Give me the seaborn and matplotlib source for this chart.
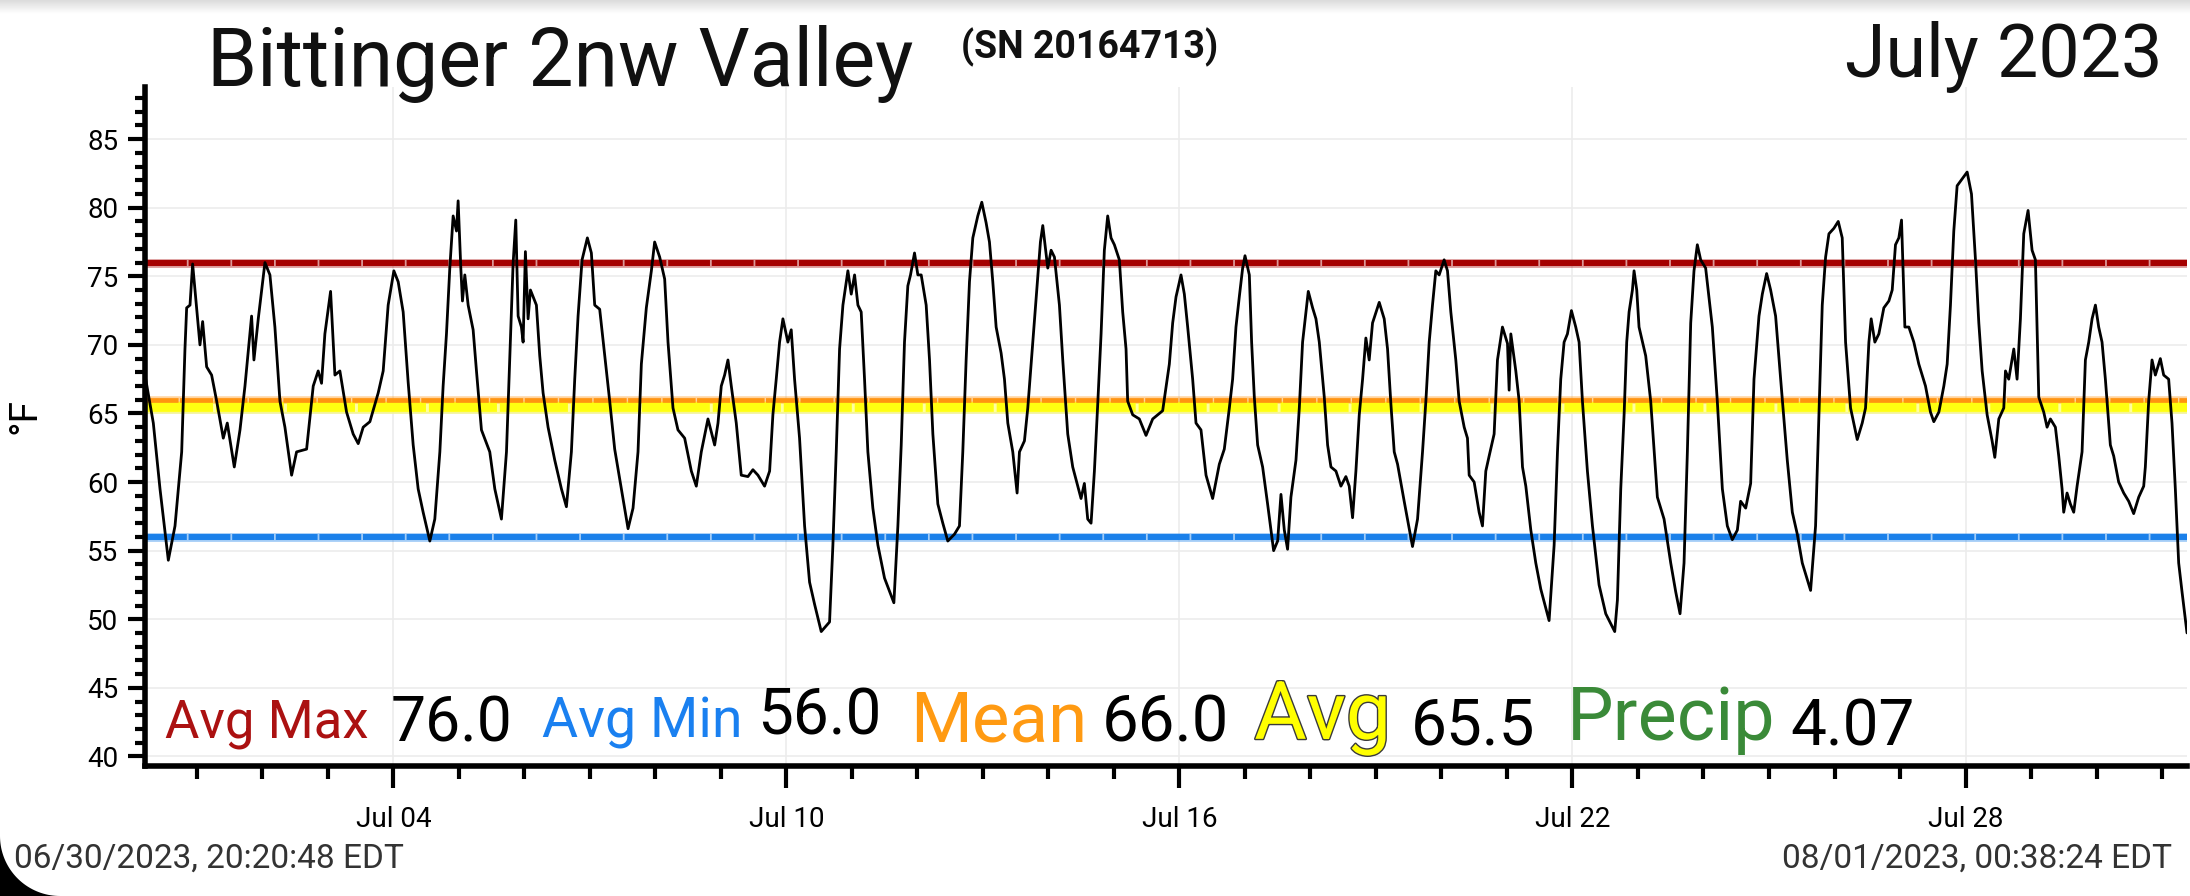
import numpy as np
import pandas as pd
import seaborn as sns
import matplotlib
matplotlib.use('Agg')
import matplotlib.pyplot as plt
import matplotlib.dates as mdates
import matplotlib.patheffects as pe
from matplotlib.ticker import MultipleLocator
from matplotlib.patches import Polygon

STATION = 'Bittinger 2nw Valley'
SERIAL = '(SN 20164713)'
MONTH = 'July 2023'
FIRST_STAMP = '06/30/2023, 20:20:48 EDT'
LAST_STAMP = '08/01/2023, 00:38:24 EDT'

# temperature trace: days after 2023-07-01 00:00 and deg F
days_a = [-0.791, -0.664, -0.562, -0.435, -0.333, -0.231, -0.181, -0.155, -0.104, -0.064,
          -0.028, 0.048, 0.089, 0.150, 0.226, 0.303, 0.404, 0.465, 0.572, 0.659,
          0.735, 0.836, 0.872, 0.938, 1.040, 1.116, 1.192, 1.269, 1.345, 1.447,
          1.523, 1.676, 1.777, 1.853, 1.904, 1.955, 2.042, 2.108, 2.184, 2.286,
          2.387, 2.464, 2.540, 2.642, 2.769, 2.845, 2.921, 3.008, 3.074, 3.150,
          3.226, 3.303, 3.379, 3.455, 3.557, 3.633, 3.710, 3.760, 3.811, 3.862,
          3.913, 3.964, 3.989, 4.030, 4.055, 4.091, 4.142, 4.218, 4.269, 4.345]
temps_a = [67.8, 64.3, 59.5, 54.3, 56.8, 62.2, 69.7, 72.7, 72.9, 75.9,
           74.0, 70.0, 71.7, 68.4, 67.8, 65.9, 63.2, 64.3, 61.1, 63.8,
           67.0, 72.1, 68.9, 71.9, 76.0, 75.1, 71.3, 65.9, 64.0, 60.5,
           62.2, 62.4, 67.0, 68.1, 67.2, 70.8, 73.9, 67.8, 68.1, 65.1,
           63.5, 62.8, 64.0, 64.4, 66.5, 68.1, 72.9, 75.4, 74.6, 72.4,
           67.3, 62.7, 59.5, 57.8, 55.7, 57.3, 62.2, 67.0, 70.8, 75.6,
           79.4, 78.3, 80.5, 75.6, 73.2, 75.1, 72.9, 71.1, 68.1, 63.8]

days_b = [4.472, 4.549, 4.650, 4.727, 4.777, 4.828, 4.869, 4.905, 4.955, 4.981,
          5.016, 5.057, 5.093, 5.184, 5.235, 5.286, 5.362, 5.464, 5.566, 5.642,
          5.718, 5.769, 5.820, 5.881, 5.962, 6.023, 6.074, 6.150, 6.227, 6.303,
          6.379, 6.481, 6.583, 6.659, 6.735, 6.786, 6.862, 6.939, 6.989, 7.066,
          7.142, 7.193, 7.269, 7.345, 7.447, 7.549, 7.625, 7.701, 7.803, 7.905,
          7.956, 8.006, 8.057, 8.108, 8.159, 8.235, 8.311, 8.413, 8.489, 8.566,
          8.667, 8.744, 8.794, 8.845, 8.896, 8.947, 9.023, 9.074, 9.125, 9.201,
          9.278, 9.354, 9.430, 9.532]
temps_b = [62.2, 59.5, 57.3, 62.2, 68.9, 75.9, 79.1, 72.1, 71.3, 70.2,
           76.8, 71.9, 74.0, 72.9, 69.2, 66.5, 64.0, 61.6, 59.5, 58.2,
           62.2, 67.5, 72.1, 76.2, 77.8, 76.7, 72.9, 72.6, 69.2, 65.9,
           62.4, 59.5, 56.6, 58.1, 62.2, 68.6, 72.7, 75.4, 77.5, 76.4,
           74.8, 70.2, 65.4, 63.8, 63.2, 60.8, 59.7, 62.2, 64.6, 62.7,
           64.3, 67.0, 67.8, 68.9, 67.0, 64.3, 60.5, 60.4, 60.9, 60.5,
           59.7, 60.8, 64.9, 67.5, 70.2, 71.9, 70.2, 71.1, 67.5, 63.2,
           56.8, 52.7, 51.1, 49.1]

days_c = [9.659, 9.710, 9.761, 9.812, 9.863, 9.939, 9.990, 10.041, 10.092, 10.142,
          10.193, 10.244, 10.320, 10.397, 10.498, 10.641, 10.702, 10.753, 10.803, 10.854,
          10.895, 10.956, 11.007, 11.058, 11.134, 11.185, 11.236, 11.312, 11.388, 11.464,
          11.566, 11.642, 11.693, 11.744, 11.795, 11.846, 11.922, 11.983, 12.049, 12.100,
          12.151, 12.202, 12.278, 12.329, 12.380, 12.456, 12.522, 12.558, 12.634, 12.685,
          12.761, 12.837, 12.878, 12.914, 12.990, 13.041, 13.092, 13.168, 13.219, 13.295,
          13.371, 13.448, 13.498, 13.549, 13.600, 13.651, 13.702, 13.753, 13.804, 13.854,
          13.905, 13.956, 14.007, 14.083, 14.134, 14.185, 14.210, 14.287, 14.388, 14.490,
          14.592, 14.744]
temps_c = [49.8, 55.4, 62.2, 69.7, 72.9, 75.4, 73.7, 75.1, 72.9, 72.4,
           67.5, 62.2, 58.1, 55.4, 53.0, 51.2, 56.8, 62.7, 70.2, 74.3,
           75.1, 76.7, 75.1, 75.1, 72.9, 68.9, 63.5, 58.4, 57.0, 55.7,
           56.2, 56.8, 62.2, 68.9, 74.6, 77.8, 79.4, 80.4, 78.9, 77.5,
           74.6, 71.3, 69.4, 67.5, 64.3, 62.2, 59.2, 62.2, 63.0, 65.4,
           70.2, 75.1, 77.5, 78.7, 75.6, 76.9, 76.4, 72.9, 68.9, 63.5,
           61.1, 59.7, 58.8, 59.9, 57.3, 57.0, 60.8, 65.7, 70.8, 76.9,
           79.4, 77.8, 77.3, 76.2, 72.4, 69.7, 65.9, 64.9, 64.6, 63.4,
           64.6, 65.2]

days_d = [14.846, 14.897, 14.948, 15.024, 15.075, 15.126, 15.202, 15.253, 15.329, 15.406,
          15.507, 15.609, 15.685, 15.762, 15.812, 15.863, 15.914, 15.965, 16.001, 16.067,
          16.102, 16.143, 16.194, 16.270, 16.346, 16.397, 16.438, 16.499, 16.550, 16.601,
          16.651, 16.702, 16.779, 16.830, 16.880, 16.931, 16.967, 17.033, 17.084, 17.135,
          17.211, 17.262, 17.313, 17.389, 17.465, 17.541, 17.592, 17.643, 17.694, 17.745,
          17.796, 17.846, 17.897, 17.948, 18.050, 18.126, 18.177, 18.228, 18.279, 18.330,
          18.431, 18.558, 18.635, 18.711, 18.762, 18.813, 18.863, 18.914, 18.965, 19.041,
          19.092, 19.143, 19.219, 19.270, 19.347, 19.397, 19.423, 19.499, 19.575, 19.626,
          19.677, 19.728, 19.804, 19.855, 19.931]
temps_d = [68.6, 71.6, 73.5, 75.1, 73.7, 71.3, 67.5, 64.3, 63.8, 60.5,
           58.8, 61.3, 62.4, 65.4, 67.5, 71.3, 73.5, 75.6, 76.5, 75.1,
           70.2, 66.2, 62.7, 61.1, 58.4, 56.5, 55.0, 55.7, 59.1, 56.5,
           55.1, 58.9, 61.6, 65.4, 70.2, 72.4, 73.9, 72.7, 71.9, 70.2,
           66.2, 62.7, 61.1, 60.8, 59.7, 60.4, 59.7, 57.4, 60.8, 64.9,
           67.5, 70.5, 68.9, 71.6, 73.1, 71.9, 69.7, 65.7, 62.2, 61.3,
           58.6, 55.3, 57.3, 62.2, 65.9, 70.2, 72.9, 75.4, 75.1, 76.2,
           75.4, 72.4, 68.9, 65.9, 64.0, 63.2, 60.5, 60.0, 57.8, 56.8,
           60.8, 61.9, 63.5, 68.9, 71.3]

days_e = [20.008, 20.033, 20.059, 20.135, 20.186, 20.237, 20.288, 20.364, 20.440, 20.516,
          20.643, 20.720, 20.771, 20.821, 20.872, 20.923, 20.984, 21.050, 21.101, 21.152,
          21.228, 21.305, 21.406, 21.508, 21.645, 21.686, 21.737, 21.788, 21.828, 21.864,
          21.915, 21.940, 21.981, 22.016, 22.118, 22.194, 22.296, 22.398, 22.500, 22.576,
          22.642, 22.703, 22.754, 22.805, 22.855, 22.906, 22.957, 23.033, 23.135, 23.211,
          23.288, 23.364, 23.440, 23.517, 23.567, 23.644, 23.720, 23.771, 23.847, 23.898,
          23.964, 24.025, 24.101, 24.178, 24.279, 24.356, 24.432, 24.508, 24.635, 24.711,
          24.762, 24.813, 24.864, 24.915, 24.991, 25.057]
temps_e = [70.1, 66.7, 70.8, 68.1, 65.9, 61.1, 59.7, 56.5, 54.1, 52.2,
           49.9, 55.4, 62.2, 67.5, 70.2, 70.8, 72.5, 71.3, 70.2, 65.9,
           60.8, 56.8, 52.5, 50.4, 49.1, 51.4, 59.5, 64.9, 70.2, 72.4,
           74.0, 75.4, 74.0, 71.3, 69.2, 65.9, 58.9, 57.3, 54.1, 52.0,
           50.4, 54.1, 62.2, 71.6, 75.4, 77.3, 76.2, 75.6, 71.3, 65.9,
           59.5, 56.8, 55.8, 56.5, 58.6, 58.1, 59.9, 67.5, 72.1, 73.7,
           75.2, 74.0, 72.1, 67.5, 61.6, 57.8, 56.2, 54.1, 52.1, 56.8,
           64.9, 72.9, 76.4, 78.1, 78.5, 79.0]

days_f = [25.118, 25.169, 25.245, 25.347, 25.423, 25.474, 25.525, 25.560, 25.616, 25.677,
          25.753, 25.830, 25.881, 25.931, 25.982, 26.023, 26.074, 26.135, 26.211, 26.287,
          26.389, 26.465, 26.516, 26.593, 26.669, 26.720, 26.770, 26.821, 26.872, 26.948,
          27.025, 27.091, 27.152, 27.203, 27.254, 27.330, 27.406, 27.447, 27.508, 27.584,
          27.610, 27.660, 27.737, 27.787, 27.838, 27.889, 27.955, 28.016, 28.067, 28.118,
          28.194, 28.245, 28.296, 28.372, 28.423, 28.474, 28.499, 28.550, 28.601, 28.652,
          28.703, 28.779, 28.830, 28.881, 28.932, 28.983, 29.033, 29.084, 29.135, 29.211,
          29.262, 29.338, 29.415, 29.491, 29.567, 29.644, 29.720, 29.745, 29.796, 29.847,
          29.898, 29.974, 30.025, 30.101, 30.152, 30.203, 30.254, 30.305, 30.381]
temps_f = [77.8, 70.2, 65.4, 63.1, 64.3, 65.4, 70.2, 71.9, 70.2, 70.8,
           72.7, 73.2, 74.0, 77.3, 77.8, 79.1, 71.3, 71.3, 70.2, 68.6,
           67.0, 65.1, 64.4, 65.1, 67.0, 68.6, 72.9, 78.3, 81.6, 82.1,
           82.6, 81.0, 76.2, 71.6, 68.1, 64.9, 63.0, 61.8, 64.6, 65.4,
           68.1, 67.5, 69.7, 67.5, 71.9, 78.1, 79.8, 76.9, 76.2, 66.2,
           65.1, 64.0, 64.6, 64.0, 61.9, 59.5, 57.8, 59.2, 58.4, 57.8,
           59.7, 62.2, 68.9, 70.2, 71.9, 72.9, 71.3, 70.2, 67.5, 62.7,
           61.9, 60.0, 59.2, 58.6, 57.7, 58.9, 59.7, 61.1, 65.9, 68.9,
           67.8, 69.0, 67.8, 67.5, 64.3, 59.5, 54.1, 52.0, 49.0]

# month summary shown along the bottom of the plot
stat_names = ['Avg Max', 'Avg Min', 'Mean', 'Avg', 'Precip']
stat_values = [76.0, 56.0, 66.0, 65.5, 4.07]

MONTH_START = pd.Timestamp('2023-07-01')
X_FROM, X_TO = -0.791, 30.381

stat_colors = {'Avg Max': '#ab1111', 'Avg Min': '#1a80f0', 'Mean': '#ff9a12',
               'Avg': '#ffff00', 'Precip': '#3a8a38'}
line_colors = {'Avg Max': '#a50000', 'Avg Min': '#1a80ea', 'Mean': '#ff9410', 'Avg': '#ffff10'}
line_widths = {'Avg Max': 4.3, 'Avg Min': 4.3, 'Mean': 3.4, 'Avg': 7.0}


def build_frame() -> pd.DataFrame:
    '''Glue the trace pieces together into one time series.'''
    days = days_a + days_b + days_c + days_d + days_e + days_f
    temps = temps_a + temps_b + temps_c + temps_d + temps_e + temps_f
    times = MONTH_START + pd.to_timedelta(days, unit='D')
    return pd.DataFrame({'time': times, 'temp': temps})


df = build_frame()

sns.set_theme(style='whitegrid')
plt.rcParams['font.family'] = ['Roboto', 'DejaVu Sans']

fig = plt.figure(figsize=(21.9, 8.96), dpi=100)
fig.patch.set_facecolor('white')
ax = fig.add_axes([145 / 2190, 1 - 766 / 896, 2042 / 2190, 679 / 896])
ax.set_facecolor('white')

# summary lines first, the trace goes on top
for name in ['Avg Max', 'Avg Min', 'Avg', 'Mean']:
    val = stat_values[stat_names.index(name)]
    col = line_colors[name]
    lw = line_widths[name]
    ax.axhline(val, color=col, lw=lw + 2.0, alpha=0.4, zorder=2)
    ax.axhline(val, color=col, lw=lw, linestyle=(0, (7.0, 0.3)), zorder=2.5)

sns.lineplot(data=df, x='time', y='temp', color='black', linewidth=2.0, ax=ax, zorder=5)

ax.set_xlim(MONTH_START + pd.Timedelta(days=X_FROM), MONTH_START + pd.Timedelta(days=X_TO))
ax.set_ylim(39.3, 88.8)

ax.xaxis.set_major_locator(mdates.DayLocator(bymonthday=[4, 10, 16, 22, 28]))
ax.xaxis.set_major_formatter(mdates.DateFormatter('%b %d'))
ax.xaxis.set_minor_locator(mdates.DayLocator())
ax.yaxis.set_major_locator(MultipleLocator(5))
ax.yaxis.set_minor_locator(MultipleLocator(1))

ax.grid(which='major', color='#ececec', linewidth=1.2)
ax.grid(which='minor', visible=False)
for side in ['top', 'right']:
    ax.spines[side].set_visible(False)
for side in ['left', 'bottom']:
    ax.spines[side].set_color('black')
    ax.spines[side].set_linewidth(4)

ax.tick_params(axis='both', which='both', direction='out', colors='black', left=True, bottom=True)
ax.tick_params(axis='y', which='major', length=12, width=3, labelsize=20, pad=7)
ax.tick_params(axis='y', which='minor', length=7, width=3)
ax.tick_params(axis='x', which='major', length=16, width=3, labelsize=20, pad=13)
ax.tick_params(axis='x', which='minor', length=9, width=3)

ax.set_xlabel('')
ax.set_ylabel('°F', fontsize=28, color='black')
ax.yaxis.set_label_coords(-0.059, 0.515)
ax.yaxis.label.set_verticalalignment('center')

# summary text row
stat_size = {'Avg Max': 38, 'Avg Min': 40, 'Mean': 51, 'Avg': 58, 'Precip': 53}
value_size = {'Avg Max': 45, 'Avg Min': 46, 'Mean': 47, 'Avg': 46, 'Precip': 46}
name_x = {'Avg Max': 0.0097, 'Avg Min': 0.1943, 'Mean': 0.3749, 'Avg': 0.5432, 'Precip': 0.6965}
value_x = {'Avg Max': 0.1205, 'Avg Min': 0.2997, 'Mean': 0.4683, 'Avg': 0.6198, 'Precip': 0.8059}
name_y = {'Avg Max': 0.042, 'Avg Min': 0.042, 'Mean': 0.036, 'Avg': 0.040, 'Precip': 0.038}
value_y = {'Avg Max': 0.036, 'Avg Min': 0.046, 'Mean': 0.036, 'Avg': 0.032, 'Precip': 0.030}

for name, val in zip(stat_names, stat_values):
    effects = None
    if name == 'Avg':
        effects = [pe.Stroke(linewidth=2.0, foreground='#3a3a3a'), pe.Normal()]
    ax.text(name_x[name], name_y[name], name, transform=ax.transAxes, ha='left', va='baseline',
            fontsize=stat_size[name], color=stat_colors[name], path_effects=effects, zorder=6)
    txt = f'{val:.2f}' if name == 'Precip' else f'{val:.1f}'
    ax.text(value_x[name], value_y[name], txt, transform=ax.transAxes, ha='left', va='baseline',
            fontsize=value_size[name], color='black', zorder=6)

# header and footer
fig.text(207 / 2190, 1 - 86 / 896, STATION, fontsize=58, color='#111111', va='baseline', ha='left')
fig.text(961 / 2190, 1 - 58 / 896, SERIAL, fontsize=27, fontweight='bold', color='#111111',
         va='baseline', ha='left')
fig.text(2162 / 2190, 1 - 77 / 896, MONTH, fontsize=53, color='#111111', va='baseline', ha='right')
fig.text(14 / 2190, 1 - 859 / 896, FIRST_STAMP, fontsize=24, color='#333333', va='center', ha='left')
fig.text(2172 / 2190, 1 - 859 / 896, LAST_STAMP, fontsize=24, color='#333333', va='center', ha='right')

# grey shadow along the top edge of the screenshot
shade = fig.add_axes([0, 1 - 14 / 896, 1, 14 / 896])
shade.imshow(np.linspace(0.86, 1.0, 30)[:, None], cmap='gray', vmin=0, vmax=1, aspect='auto')
shade.axis('off')

# rounded black corner bottom left
r = 60
theta = np.linspace(np.pi, 1.5 * np.pi, 40)
corner = [(0, 0), (0, r)] + [(r + r * np.cos(t), r + r * np.sin(t)) for t in theta] + [(r, 0)]
corner = [(px / 2190, py / 896) for px, py in corner]
fig.patches.append(Polygon(corner, closed=True, transform=fig.transFigure, facecolor='black',
                           edgecolor='none', zorder=10))

fig.savefig('out.png', dpi=100, facecolor='white')
